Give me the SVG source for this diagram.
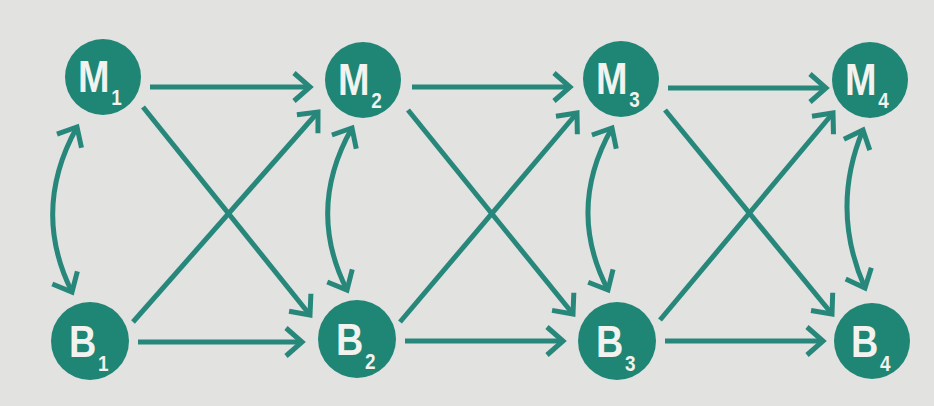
<svg xmlns="http://www.w3.org/2000/svg" width="934" height="406" viewBox="0 0 934 406">
  <style>
    .node circle { fill: #1f8575; }
    .lbl { font-family: "Liberation Sans", Arial, sans-serif; font-weight: bold; fill: #f2f2ee; font-size: 44px; }
    .sub { font-size: 22px; }
    .conn { fill: none; stroke: #26877a; stroke-width: 5; }
  </style>
  <defs>
    <marker id="ah" viewBox="-22 -17 26 34" markerWidth="26" markerHeight="34" refX="0" refY="0" orient="auto-start-reverse" markerUnits="userSpaceOnUse">
      <path d="M-16,-14 L0,0 L-16,14" fill="none" stroke="#26877a" stroke-width="5"/>
    </marker>
  </defs>
  <rect x="0" y="0" width="934" height="406" fill="#e2e2e0"/>
  <g id="connectors">
    <line class="conn" x1="150" y1="87" x2="310" y2="87" marker-end="url(#ah)"/>
    <line class="conn" x1="412" y1="87" x2="570" y2="87" marker-end="url(#ah)"/>
    <line class="conn" x1="668" y1="88" x2="826" y2="88" marker-end="url(#ah)"/>
    <line class="conn" x1="138" y1="342" x2="302" y2="342" marker-end="url(#ah)"/>
    <line class="conn" x1="405" y1="341" x2="563" y2="341" marker-end="url(#ah)"/>
    <line class="conn" x1="665" y1="341" x2="823" y2="341" marker-end="url(#ah)"/>
    <line class="conn" x1="143" y1="107" x2="310" y2="315" marker-end="url(#ah)"/>
    <line class="conn" x1="133" y1="322" x2="318" y2="112" marker-end="url(#ah)"/>
    <line class="conn" x1="408" y1="110" x2="573" y2="314" marker-end="url(#ah)"/>
    <line class="conn" x1="400" y1="322" x2="577" y2="113" marker-end="url(#ah)"/>
    <line class="conn" x1="665" y1="110" x2="832" y2="314" marker-end="url(#ah)"/>
    <line class="conn" x1="660" y1="320" x2="833" y2="113" marker-end="url(#ah)"/>
    <path class="conn" d="M77,127 Q31,210 72,292" marker-start="url(#ah)" marker-end="url(#ah)"/>
    <path class="conn" d="M352,128 Q306,209 347,290" marker-start="url(#ah)" marker-end="url(#ah)"/>
    <path class="conn" d="M612,128 Q566,209 608,290" marker-start="url(#ah)" marker-end="url(#ah)"/>
    <path class="conn" d="M863,130 Q830,209 865,288" marker-start="url(#ah)" marker-end="url(#ah)"/>
  </g>
  <g id="M1" class="node"><circle cx="103" cy="77" r="38"/><text class="lbl" transform="translate(78,92) scale(0.86,1)">M<tspan class="sub" dx="2" dy="13">1</tspan></text></g>
  <g id="M2" class="node"><circle cx="363" cy="80" r="38"/><text class="lbl" transform="translate(338,95) scale(0.86,1)">M<tspan class="sub" dx="2" dy="13">2</tspan></text></g>
  <g id="M3" class="node"><circle cx="621" cy="79" r="38"/><text class="lbl" transform="translate(596,94) scale(0.86,1)">M<tspan class="sub" dx="2" dy="13">3</tspan></text></g>
  <g id="M4" class="node"><circle cx="870" cy="80" r="38"/><text class="lbl" transform="translate(845,95) scale(0.86,1)">M<tspan class="sub" dx="2" dy="13">4</tspan></text></g>
  <g id="B1" class="node"><circle cx="90" cy="341" r="39"/><text class="lbl" transform="translate(69,357) scale(0.86,1)">B<tspan class="sub" dx="2" dy="14">1</tspan></text></g>
  <g id="B2" class="node"><circle cx="357" cy="339" r="39"/><text class="lbl" transform="translate(336,355) scale(0.86,1)">B<tspan class="sub" dx="2" dy="14">2</tspan></text></g>
  <g id="B3" class="node"><circle cx="617" cy="341" r="39"/><text class="lbl" transform="translate(596,357) scale(0.86,1)">B<tspan class="sub" dx="2" dy="14">3</tspan></text></g>
  <g id="B4" class="node"><circle cx="872" cy="341" r="38"/><text class="lbl" transform="translate(851,357) scale(0.86,1)">B<tspan class="sub" dx="2" dy="14">4</tspan></text></g>
</svg>
